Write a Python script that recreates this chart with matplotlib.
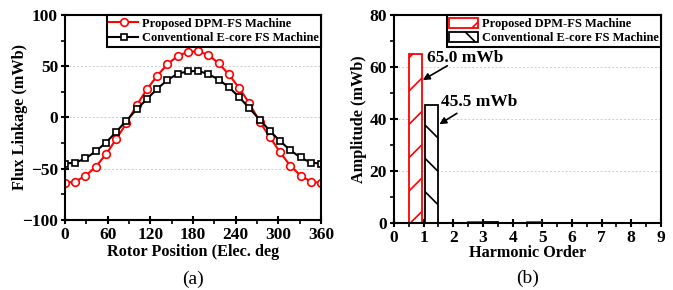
import numpy as np
import matplotlib.pyplot as plt
from matplotlib.ticker import MultipleLocator

plt.rcParams['font.family'] = ['Liberation Serif', 'DejaVu Serif']
plt.rcParams['hatch.linewidth'] = 1.2

# (a) flux linkage waveforms, 26 samples over one electrical period
angle = np.linspace(0, 360, 26)
flux_dpm = [-64, -62.5, -57, -48, -36, -21, -5.5, 12, 27.5, 40.7, 52, 60, 64,
            64.5, 61, 53, 42, 28.7, 14, -4, -19, -34, -47, -56.7, -62.5, -64]
flux_ecore = [-45, -44, -40, -33, -24.5, -14, -3, 8, 18, 28, 36.5, 42.7, 45,
              45.5, 42.3, 37, 29.6, 20, 9, -2, -13, -23, -32, -39, -44, -45]

# (b) harmonic spectrum
orders = np.arange(1, 10)
amp_dpm = [65.0, 0, 0.5, 0, 0.3, 0, 0, 0, 0]
amp_ecore = [45.5, 0, 0.3, 0, 0.1, 0, 0, 0, 0]

label_dpm = 'Proposed DPM-FS Machine'
label_ecore = 'Conventional E-core FS Machine'

fig = plt.figure(figsize=(6.73, 2.90), dpi=100)
ax1 = fig.add_axes([0.0966, 0.2414, 0.3804, 0.7069])
ax2 = fig.add_axes([0.5854, 0.231, 0.3967, 0.717])

bold = dict(fontweight='bold')
lab_size = 11.7

def style(ax):
    for s in ax.spines.values():
        s.set_linewidth(1.5)
    ax.tick_params(which='major', direction='inout', length=6, width=1.5,
                   labelsize=12.5, pad=2)
    ax.tick_params(which='minor', direction='out', length=3, width=1.2)
    for lab in ax.get_xticklabels() + ax.get_yticklabels():
        lab.set_fontweight('bold')
    ax.grid(True, which='major', axis='y', linestyle=(0, (2, 2)),
            color='#cccccc', linewidth=0.7)
    ax.set_axisbelow(True)

def legend(ax):
    leg = ax.legend(loc='upper right', borderaxespad=0, fancybox=False,
                    edgecolor='black', framealpha=1, handlelength=2.3,
                    handleheight=0.9, handletextpad=0.3, borderpad=0.2,
                    labelspacing=0.15,
                    prop=dict(family='Liberation Serif', weight='bold',
                              size=9))
    leg.get_frame().set_linewidth(1.5)

# ---- (a)
ax1.plot(angle, flux_dpm, '-o', color='red', lw=1.5, ms=5.5,
         mfc='white', mec='red', mew=1.2, label=label_dpm)
ax1.plot(angle, flux_ecore, '-s', color='black', lw=1.5, ms=5,
         mfc='white', mec='black', mew=1.2, label=label_ecore)
ax1.set_xlim(0, 360)
ax1.set_ylim(-100, 100)
ax1.set_xticks(np.arange(0, 361, 60))
ax1.set_yticks(np.arange(-100, 101, 50))
ax1.xaxis.set_minor_locator(MultipleLocator(30))
ax1.yaxis.set_minor_locator(MultipleLocator(25))
style(ax1)
ax1.set_xlabel('Rotor Position (Elec. deg', fontsize=lab_size, labelpad=1,
               **bold)
ax1.set_ylabel('Flux Linkage (mWb)', fontsize=lab_size, labelpad=-4, **bold)
legend(ax1)
ax1.text(0.5, -0.245, '(a)', transform=ax1.transAxes, ha='center', va='top',
         fontsize=14)

# ---- (b)
w = 0.44
ax2.bar(orders - 0.28, amp_dpm, width=w, color='white', edgecolor='red',
        hatch='/', lw=1.3, label=label_dpm)
ax2.bar(orders + 0.28, amp_ecore, width=w, color='white', edgecolor='black',
        hatch='\\', lw=1.3, label=label_ecore)
ax2.set_xlim(0, 9)
ax2.set_ylim(0, 80)
ax2.set_xticks(np.arange(0, 10, 1))
ax2.set_yticks(np.arange(0, 81, 20))
ax2.xaxis.set_minor_locator(MultipleLocator(0.5))
ax2.yaxis.set_minor_locator(MultipleLocator(10))
style(ax2)
ax2.set_xlabel('Harmonic Order', fontsize=lab_size, labelpad=-1, **bold)
ax2.set_ylabel('Amplitude (mWb)', fontsize=lab_size, labelpad=2, **bold)
legend(ax2)

ax2.annotate('', xy=(0.97, 55), xytext=(1.8, 60.5),
             arrowprops=dict(arrowstyle='-|>', color='black', lw=1.2,
                             mutation_scale=10, shrinkA=0, shrinkB=0))
ax2.text(1.12, 63.5, '%.1f mWb' % amp_dpm[0], fontsize=12.5, va='center',
         ha='left', **bold)
ax2.annotate('', xy=(1.53, 38), xytext=(2.12, 42.2),
             arrowprops=dict(arrowstyle='-|>', color='black', lw=1.2,
                             mutation_scale=10, shrinkA=0, shrinkB=0))
ax2.text(1.6, 46.5, '%.1f mWb' % amp_ecore[0], fontsize=12.5, va='center',
         ha='left', **bold)
ax2.text(0.5, -0.226, '(b)', transform=ax2.transAxes, ha='center', va='top',
         fontsize=14)

fig.savefig('out.png', dpi=100)
